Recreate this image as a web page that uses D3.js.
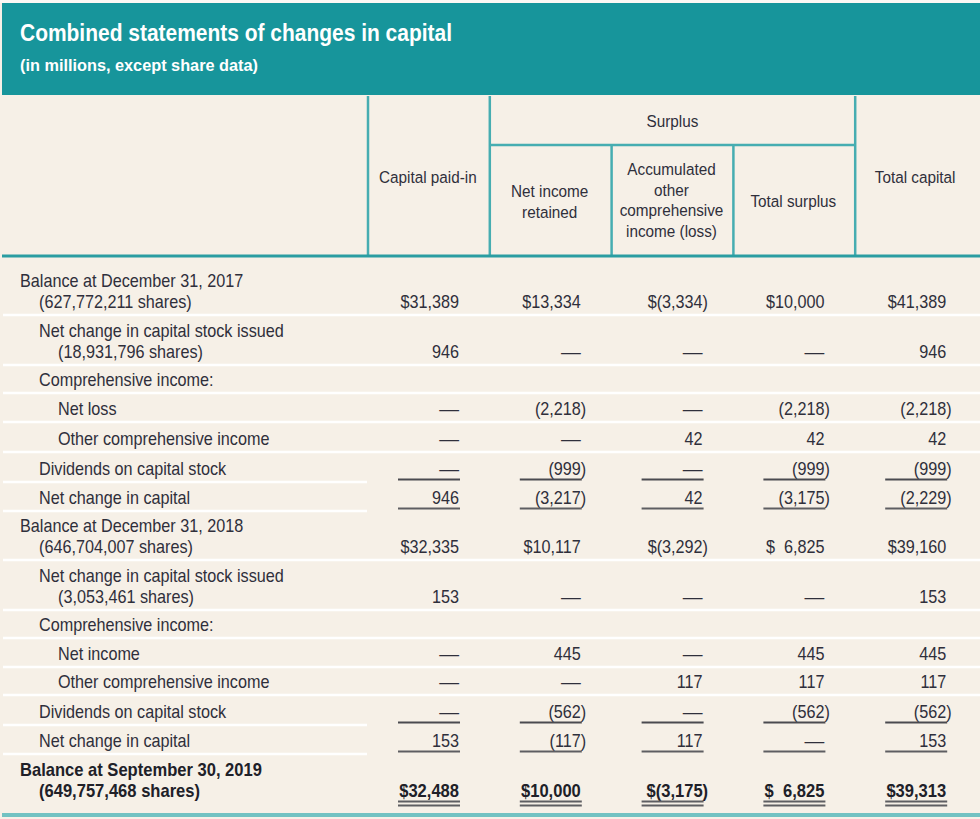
<!DOCTYPE html>
<html>
<head>
<meta charset="utf-8">
<script src="https://cdn.jsdelivr.net/npm/d3@7"></script>
<style>
  html, body { margin: 0; padding: 0; background: #ffffff; }
  svg { display: block; }
  text { font-family: "Liberation Sans", Arial, sans-serif; }
</style>
</head>
<body>
<svg id="chart" width="980" height="819"></svg>
<script>
// ---------- DATA ----------
const title = "Combined statements of changes in capital";
const subtitle = "(in millions, except share data)";

const columnKeys = ["capitalPaidIn", "netIncomeRetained", "aoci", "totalSurplus", "totalCapital"];
const columnHeaders = [
  ["Capital paid-in"],
  ["Net income", "retained"],
  ["Accumulated", "other", "comprehensive", "income (loss)"],
  ["Total surplus"],
  ["Total capital"]
];
const groupHeader = "Surplus";   // spans netIncomeRetained .. totalSurplus

const rowLabels = [
  ["Balance at December 31, 2017", "(627,772,211 shares)"],
  ["Net change in capital stock issued", "(18,931,796 shares)"],
  ["Comprehensive income:"],
  ["Net loss"],
  ["Other comprehensive income"],
  ["Dividends on capital stock"],
  ["Net change in capital"],
  ["Balance at December 31, 2018", "(646,704,007 shares)"],
  ["Net change in capital stock issued", "(3,053,461 shares)"],
  ["Comprehensive income:"],
  ["Net income"],
  ["Other comprehensive income"],
  ["Dividends on capital stock"],
  ["Net change in capital"],
  ["Balance at September 30, 2019", "(649,757,468 shares)"]
];
const rowIndent = [0, 1, 1, 2, 2, 1, 1, 0, 1, 1, 2, 2, 1, 1, 0];
const rowKind = ["balance", "item", "heading", "item", "item", "dividends", "net",
                 "balance", "item", "heading", "item", "item", "dividends", "net", "total"];

// null = blank cell, 0 = dash
const capitalPaidIn     = [31389, 946, null, 0, 0, 0, 946, 32335, 153, null, 0, 0, 0, 153, 32488];
const netIncomeRetained = [13334, 0, null, -2218, 0, -999, -3217, 10117, 0, null, 445, 0, -562, -117, 10000];
const aoci              = [-3334, 0, null, 0, 42, 0, 42, -3292, 0, null, 0, 117, 0, 117, -3175];
const totalSurplus      = [10000, 0, null, -2218, 42, -999, -3175, 6825, 0, null, 445, 117, -562, 0, 6825];
const totalCapital      = [41389, 946, null, -2218, 42, -999, -2229, 39160, 153, null, 445, 117, -562, 153, 39313];
const columnValues = { capitalPaidIn, netIncomeRetained, aoci, totalSurplus, totalCapital };

// ---------- LAYOUT ----------
const W = 980, H = 819;
const bg = "#f6f0e7", teal = "#17959b", lineTeal = "#46adb1", textCol = "#2f2f3b";
const rowHeights = [58, 50, 28, 29, 30, 30, 29, 49, 50, 28, 29, 28, 30, 29, 59];
const tableTop = 257;
const headerTop = 96, groupBottom = 145, headerBottom = 256;
const fs = 18, sx = 0.9, sxBold = 0.92;

const svg = d3.select("#chart");

function ctext(parent, x, y, str, o = {}) {
  const g = parent.append("g").attr("transform", `translate(${x},${y}) scale(${o.sx ?? sx},1)`);
  return g.append("text").attr("x", 0).attr("y", 0)
    .attr("text-anchor", o.anchor || "start")
    .attr("font-size", o.size || fs)
    .attr("font-weight", o.bold ? "bold" : "normal")
    .attr("fill", o.fill || textCol)
    .text(str);
}

// background
svg.append("rect").attr("x", 0).attr("y", 0).attr("width", W).attr("height", H).attr("fill", bg);
svg.append("rect").attr("x", 0).attr("y", 0).attr("width", W).attr("height", 3).attr("fill", "#fbf8f4");

// title band
svg.append("rect").attr("x", 2).attr("y", 3).attr("width", W - 2).attr("height", 92).attr("fill", teal);
svg.append("text").attr("x", 20).attr("y", 41).attr("fill", "#ffffff")
  .attr("font-size", 23).attr("font-weight", "bold")
  .attr("textLength", 432).attr("lengthAdjust", "spacingAndGlyphs").text(title);
svg.append("text").attr("x", 20).attr("y", 71).attr("fill", "#ffffff")
  .attr("font-size", 16).attr("font-weight", "bold")
  .attr("textLength", 238).attr("lengthAdjust", "spacingAndGlyphs").text(subtitle);

// column scale
const x = d3.scaleBand().domain(columnKeys).range([368, 977]).paddingInner(0).paddingOuter(0);
const rightEdge = k => x(k) + 91;
const centerOf = k => x(k) + x.bandwidth() / 2 - 1;

// row positions
const rowTops = [];
let acc = tableTop;
rowHeights.forEach(h => { rowTops.push(acc); acc += h; });
const tableBottom = acc;
const rowBottom = i => rowTops[i] + rowHeights[i];
const valueBaseline = i => rowKind[i] === "total" ? rowBottom(i) - 16 : rowBottom(i) - 7.5;

// ---------- HEADER ----------
const hdr = svg.append("g");
[x("capitalPaidIn"), x("netIncomeRetained"), x("totalCapital")].forEach(xx => {
  hdr.append("line").attr("x1", xx).attr("x2", xx).attr("y1", headerTop).attr("y2", headerBottom)
    .attr("stroke", lineTeal).attr("stroke-width", 2.5);
});
[x("aoci"), x("totalSurplus")].forEach(xx => {
  hdr.append("line").attr("x1", xx).attr("x2", xx).attr("y1", groupBottom).attr("y2", headerBottom)
    .attr("stroke", lineTeal).attr("stroke-width", 2.5);
});
hdr.append("line").attr("x1", x("netIncomeRetained")).attr("x2", x("totalCapital"))
  .attr("y1", groupBottom).attr("y2", groupBottom).attr("stroke", lineTeal).attr("stroke-width", 2.5);
hdr.append("line").attr("x1", 2).attr("x2", W).attr("y1", headerBottom).attr("y2", headerBottom)
  .attr("stroke", "#2a9da2").attr("stroke-width", 3);

ctext(hdr, (x("netIncomeRetained") + x("totalCapital")) / 2, 127, groupHeader, { anchor: "middle", size: 17 });

const headerFirstBaseline = [183, 197, 175, 207, 183];
columnKeys.forEach((k, ci) => {
  columnHeaders[ci].forEach((line, li) => {
    ctext(hdr, centerOf(k), headerFirstBaseline[ci] + li * 20.5, line, { anchor: "middle", size: 17 });
  });
});

// ---------- BODY ----------
const body = svg.append("g");

rowHeights.forEach((h, i) => {
  if (i === rowHeights.length - 1) return;
  const partial = rowKind[i] === "dividends" || rowKind[i] === "net";
  body.append("line")
    .attr("x1", 3).attr("x2", partial ? 367 : W)
    .attr("y1", rowBottom(i)).attr("y2", rowBottom(i))
    .attr("stroke", "#ffffff").attr("stroke-width", 2.5);
});

body.append("rect").attr("x", 2).attr("y", tableBottom).attr("width", W - 2).attr("height", 4)
  .attr("fill", "#72c2c2");

// labels
rowLabels.forEach((lines, i) => {
  const bold = rowKind[i] === "total";
  const lastBase = valueBaseline(i);
  lines.forEach((line, li) => {
    const base = lastBase - (lines.length - 1 - li) * 21;
    const indent = 20 + rowIndent[i] * 19 + (li > 0 ? 19 : 0);
    ctext(body, indent, base, line, { bold, fill: bold ? "#202028" : textCol, sx: bold ? sxBold : sx });
  });
});

// values
const fmt = d3.format(",");
function cellText(v, dollar) {
  if (v === 0) return { main: "\u2014", close: false, dash: true };
  let s = fmt(Math.abs(v));
  if (v < 0) s = "(" + s;
  if (dollar) s = (s.length < 6 ? "$\u2007" : "$") + s;
  return { main: s, close: v < 0, dash: false };
}

columnKeys.forEach(k => {
  const vals = columnValues[k];
  const edge = rightEdge(k);
  vals.forEach((v, i) => {
    if (v === null) return;
    const kind = rowKind[i];
    const dollar = kind === "balance" || kind === "total";
    const bold = kind === "total";
    const y = valueBaseline(i);
    const t = cellText(v, dollar);
    const o = { bold, fill: bold ? "#202028" : textCol, sx: t.dash ? 1.1 : (bold ? sxBold : sx) };
    ctext(body, edge, y, t.main, Object.assign({ anchor: "end" }, o));
    if (t.close) ctext(body, edge, y, ")", Object.assign({ anchor: "start" }, o));

    if (kind === "dividends" || kind === "net") {
      body.append("line").attr("x1", edge - 61).attr("x2", edge + 1)
        .attr("y1", y + 5).attr("y2", y + 5)
        .attr("stroke", kind === "net" ? "#5e5e62" : "#4a4a50").attr("stroke-width", 2.2);
    }
    if (kind === "total") {
      [4.5, 8.5].forEach(dy => {
        body.append("line").attr("x1", edge - 61).attr("x2", edge + 1)
          .attr("y1", y + dy).attr("y2", y + dy)
          .attr("stroke", "#5e5e62").attr("stroke-width", 2);
      });
    }
  });
});
</script>
</body>
</html>
